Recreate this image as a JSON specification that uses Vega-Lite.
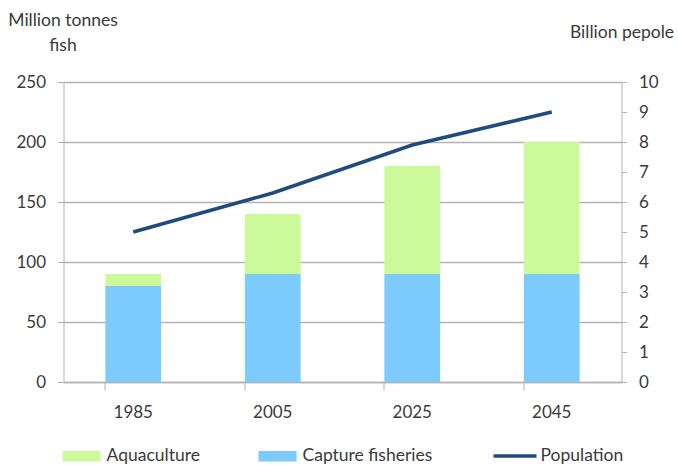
{
  "$schema": "https://vega.github.io/schema/vega-lite/v6.json",
  "width": 558,
  "height": 300,
  "autosize": {"type": "none"},
  "padding": {"left": 63.5, "top": 82, "right": 56.5, "bottom": 83},
  "background": "white",
  "config": {
    "font": "Lato",
    "view": {"stroke": null},
    "axis": {
      "labelFont": "Lato",
      "labelFontSize": 17,
      "labelColor": "#3a3a3a",
      "titleFont": "Lato",
      "titleFontSize": 17.5,
      "titleFontWeight": "normal",
      "titleColor": "#3a3a3a",
      "domainColor": "#b3b3b3",
      "tickColor": "#b3b3b3",
      "gridColor": "#b3b3b3"
    },
    "legend": {
      "labelFont": "Lato",
      "labelFontSize": 17.5,
      "labelColor": "#3a3a3a",
      "padding": 0
    }
  },
  "layer": [
    {
      "data": {
        "values": [
          {"year": "1985", "series": "Capture fisheries", "tonnes": 80},
          {"year": "1985", "series": "Aquaculture", "tonnes": 10},
          {"year": "2005", "series": "Capture fisheries", "tonnes": 90},
          {"year": "2005", "series": "Aquaculture", "tonnes": 50},
          {"year": "2025", "series": "Capture fisheries", "tonnes": 90},
          {"year": "2025", "series": "Aquaculture", "tonnes": 90},
          {"year": "2045", "series": "Capture fisheries", "tonnes": 90},
          {"year": "2045", "series": "Aquaculture", "tonnes": 110}
        ]
      },
      "mark": {"type": "bar"},
      "encoding": {
        "x": {
          "field": "year",
          "type": "nominal",
          "scale": {"paddingInner": 0.6, "paddingOuter": 0.3},
          "axis": {
            "title": null,
            "labelAngle": 0,
            "bandPosition": 0,
            "tickSize": 8,
            "labelPadding": 14,
            "domainWidth": 1.5
          }
        },
        "y": {
          "field": "tonnes",
          "type": "quantitative",
          "stack": "zero",
          "scale": {"domain": [0, 250], "nice": false},
          "axis": {
            "orient": "left",
            "values": [0, 50, 100, 150, 200, 250],
            "tickSize": 6,
            "labelPadding": 12,
            "domain": true,
            "grid": true,
            "gridWidth": 1.5,
            "title": ["Million tonnes", "fish"],
            "titleAngle": 0,
            "titleAlign": "center",
            "titleBaseline": "middle",
            "titleLineHeight": 25,
            "titleX": -1,
            "titleY": -62
          }
        },
        "color": {
          "field": "series",
          "type": "nominal",
          "scale": {
            "domain": ["Aquaculture", "Capture fisheries"],
            "range": ["#ccfa9b", "#7ccaff"]
          },
          "legend": {
            "title": null,
            "orient": "none",
            "direction": "horizontal",
            "legendX": -1,
            "legendY": 355,
            "symbolType": "M-1,-0.27H1V0.27H-1Z",
            "symbolSize": 1444,
            "symbolStrokeWidth": 0,
            "symbolOpacity": 1,
            "labelOffset": 6,
            "columnPadding": 58
          }
        },
        "order": {"field": "series", "sort": "descending"}
      }
    },
    {
      "data": {
        "values": [
          {"year": "1985", "series": "Population", "people": 5.0},
          {"year": "2005", "series": "Population", "people": 6.3},
          {"year": "2025", "series": "Population", "people": 7.9},
          {"year": "2045", "series": "Population", "people": 9.0}
        ]
      },
      "mark": {"type": "line", "strokeWidth": 3.5},
      "encoding": {
        "x": {"field": "year", "type": "nominal"},
        "y": {
          "field": "people",
          "type": "quantitative",
          "scale": {"domain": [0, 10], "nice": false},
          "axis": {
            "orient": "right",
            "values": [0, 1, 2, 3, 4, 5, 6, 7, 8, 9, 10],
            "tickSize": 5,
            "labelPadding": 12,
            "grid": false,
            "title": "Billion pepole",
            "titleAngle": 0,
            "titleAlign": "center",
            "titleBaseline": "middle",
            "titleX": 0,
            "titleY": -50
          }
        },
        "stroke": {
          "field": "series",
          "type": "nominal",
          "scale": {"domain": ["Population"], "range": ["#1f4b7e"]},
          "legend": {
            "title": null,
            "orient": "none",
            "direction": "horizontal",
            "legendX": 428,
            "legendY": 350.5,
            "symbolType": "stroke",
            "symbolSize": 1849,
            "symbolStrokeWidth": 3.5,
            "labelOffset": 2
          }
        }
      }
    }
  ],
  "resolve": {"scale": {"y": "independent"}}
}
